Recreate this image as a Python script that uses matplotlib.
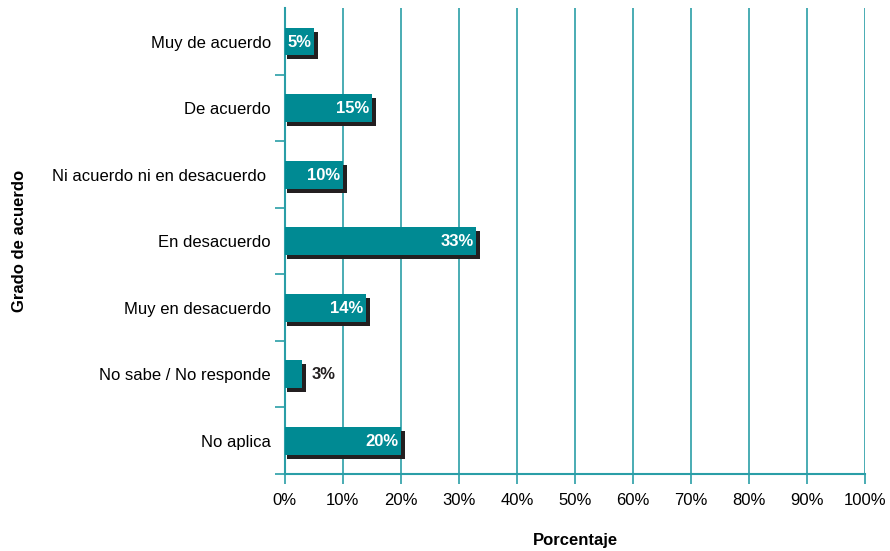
import matplotlib.pyplot as plt

categorias = ["Muy de acuerdo", "De acuerdo", "Ni acuerdo ni en desacuerdo ", "En desacuerdo",
              "Muy en desacuerdo", "No sabe / No responde", "No aplica"]
porcentajes = [5, 15, 10, 33, 14, 3, 20]
ticks_x = [0, 10, 20, 30, 40, 50, 60, 70, 80, 90, 100]

teal = "#008a93"
linea = "#2a9ea7"

plt.rcParams['font.family'] = ['Liberation Sans', 'DejaVu Sans']

fig = plt.figure(figsize=(8.9, 5.51), dpi=100, facecolor="white")
ax = fig.add_axes([0.320, 0.140, 0.652, 0.845])

y = list(range(len(categorias)))
alto = 0.42

# sombra negra desplazada y barra encima
ax.barh([i + 0.06 for i in y], [v + 0.3 for v in porcentajes], left=0.4, height=alto,
        color="#231f20", zorder=2)
ax.barh(y, porcentajes, height=alto, color=teal, zorder=3)

for i, v in zip(y, porcentajes):
    if v >= 5:
        ax.text(v - 0.4, i + 0.01, f"{v}%", ha="right", va="center", color="white",
                fontsize=12, fontweight="bold", zorder=4)
    else:
        ax.text(v + 1.6, i + 0.01, f"{v}%", ha="left", va="center", color="#231f20",
                fontsize=12, fontweight="bold", zorder=4)

ax.set_xlim(0, 100)
ax.set_ylim(len(categorias) - 0.5, -0.5)
ax.set_xticks(ticks_x)
ax.set_xticklabels([f"{t}%" for t in ticks_x], fontsize=12)
ax.set_yticks(y)
ax.set_yticklabels(categorias, fontsize=12)
ax.tick_params(axis="y", which="major", length=0, pad=10)
ax.set_yticks([i + 0.5 for i in y], minor=True)
ax.tick_params(axis="y", which="minor", length=7, color=linea, width=1.2)
ax.tick_params(axis="x", length=7, color=linea, width=1.2, pad=7)

ax.grid(True, axis="x", color=linea, linewidth=1.2, zorder=1)
ax.set_axisbelow(True)

for s in ["top", "right"]:
    ax.spines[s].set_visible(False)
for s in ["left", "bottom"]:
    ax.spines[s].set_color(linea)
    ax.spines[s].set_linewidth(1.5)

ax.set_xlabel("Porcentaje", fontsize=12, fontweight="bold")
ax.xaxis.set_label_coords(0.5, -0.128)
ax.set_ylabel("Grado de acuerdo", fontsize=12, fontweight="bold")
ax.yaxis.set_label_coords(-0.445, 0.5)

plt.savefig("out.png", dpi=100)
